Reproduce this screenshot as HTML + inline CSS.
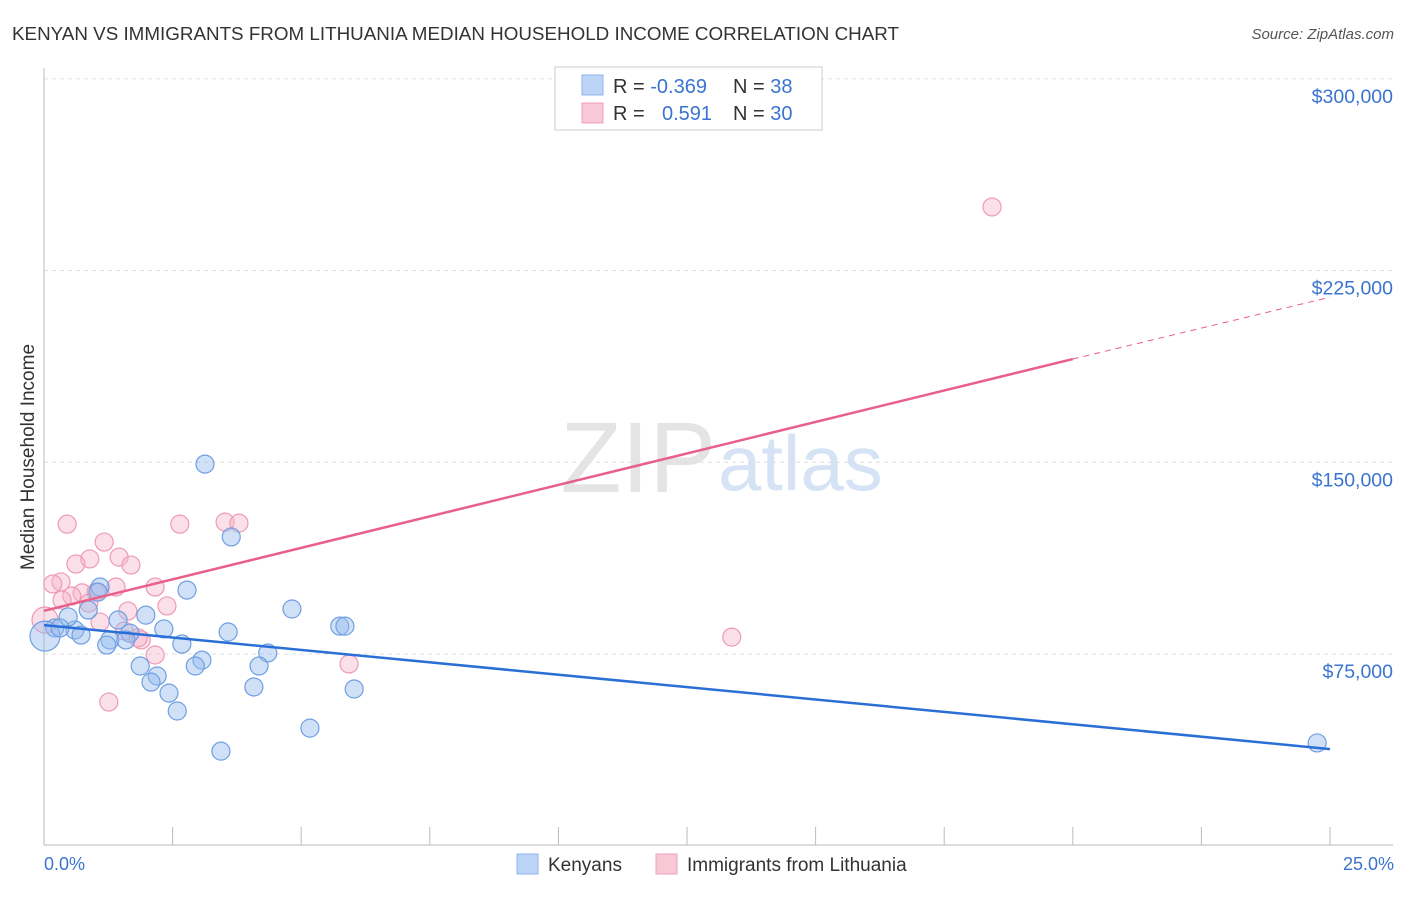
<!DOCTYPE html>
<html><head><meta charset="utf-8"><style>
body{margin:0;background:#fff;font-family:"Liberation Sans",sans-serif;}
svg text{font-family:"Liberation Sans",sans-serif;}
</style></head><body>
<svg id="chart" width="1406" height="892">
<text x="12" y="40" font-size="18" fill="#333" textLength="887" lengthAdjust="spacingAndGlyphs">KENYAN VS IMMIGRANTS FROM LITHUANIA MEDIAN HOUSEHOLD INCOME CORRELATION CHART</text>
<text x="1394" y="39" font-size="15" fill="#555" font-style="italic" text-anchor="end">Source: ZipAtlas.com</text>
<text x="716" y="492" font-size="100" fill="#e4e4e4" text-anchor="end" font-family="Liberation Serif">ZIP</text>
<text x="718" y="490" font-size="78" fill="#d6e3f5">atlas</text>
<text transform="translate(34,457) rotate(-90)" font-size="19" fill="#333" text-anchor="middle">Median Household Income</text>
<g id="grid"></g><g id="axes"></g><g id="marks"></g>
<g>
<rect x="555" y="67" width="267" height="63" fill="#fff" stroke="#ccc"/>
<rect x="582" y="75" width="21" height="20" fill="#bcd4f6" stroke="#8fb3e8"/>
<rect x="582" y="103" width="21" height="20" fill="#f9c8d6" stroke="#f0a0b8"/>
<text x="613" y="93" font-size="20" fill="#333">R = <tspan fill="#3a74d0">-0.369</tspan></text>
<text x="733" y="93" font-size="20" fill="#333">N = <tspan fill="#3a74d0">38</tspan></text>
<text x="613" y="120" font-size="20" fill="#333">R = <tspan fill="#3a74d0" x="662">0.591</tspan></text>
<text x="733" y="120" font-size="20" fill="#333">N = <tspan fill="#3a74d0">30</tspan></text>
</g>
<g>
<rect x="517" y="854" width="21" height="20" fill="#bcd4f6" stroke="#8fb3e8"/>
<text x="548" y="871" font-size="19" fill="#333">Kenyans</text>
<rect x="656" y="854" width="21" height="20" fill="#f9c8d6" stroke="#f0a0b8"/>
<text x="687" y="871" font-size="19" fill="#333">Immigrants from Lithuania</text>
</g>
<text x="44" y="870" font-size="18" fill="#3a74d0">0.0%</text>
<text x="1394" y="870" font-size="18" fill="#3a74d0" text-anchor="end">25.0%</text>
</svg>
<script>
const yTicks=[75000,150000,225000,300000];
const yTickLabels=["$75,000","$150,000","$225,000","$300,000"];
const xTicks=[0,2.5,5,7.5,10,12.5,15,17.5,20,22.5,25];
const blueX=[3.13,3.64,2.78,1.09,4.82,1.98,1.44,5.75,5.85,2.33,3.58,0.21,0.60,0.72,1.67,1.28,1.59,2.68,1.22,4.35,3.07,1.87,2.94,4.18,2.20,2.08,2.43,4.08,6.03,2.59,5.17,3.44,24.75,0.47,0.86,0.02,1.05,0.31];
const blueY=[149300,120800,100000,101200,92600,90200,88300,85900,85900,84800,83600,85200,84400,82400,83200,80500,80500,78900,78500,75400,72600,70300,70300,70300,66400,64000,59700,62100,61300,52700,46000,37000,40200,89500,92200,82000,99200,85200];
const pinkX=[18.43,0.45,2.64,3.52,3.79,1.17,1.46,0.89,0.62,1.69,0.33,0.17,1.40,2.16,0.74,1.01,0.54,2.39,1.63,0.87,1.09,1.56,1.89,1.83,2.16,5.93,13.37,1.26,0.02,0.35];
const pinkY=[249900,125800,125800,126600,126200,118800,112900,112200,110200,109800,103200,102400,101200,101200,98900,99200,97700,93800,91800,94900,87500,84000,80500,81300,74600,71100,81600,56200,88300,96100];
const blueTrend=[86300,37800];
const pinkTrend=[91900,190400,214600];
const pinkSolidEnd=20;
const NS="http://www.w3.org/2000/svg";
const X=v=>44+v/25*1286;
const Y=v=>845.7-v/75000*191.7;
function mk(t,a,p){const e=document.createElementNS(NS,t);for(const k in a)e.setAttribute(k,a[k]);p.appendChild(e);return e;}
const grid=document.getElementById('grid'),axes=document.getElementById('axes'),marks=document.getElementById('marks');
yTicks.forEach((t,i)=>{
 const l=mk('line',{x1:44,x2:1393,y1:Y(t),y2:Y(t),stroke:'#ddd','stroke-dasharray':'4,4'},grid);
 
 
 const tx=mk('text',{x:1393,y:Y(t)+24,'font-size':19.5,fill:'#3a74d0','text-anchor':'end'},grid);
 tx.textContent=yTickLabels[i];
 
 
});
const ya=mk('line',{x1:44,x2:44,y1:68,y2:845,stroke:'#bbb'},axes);


const xa=mk('line',{x1:44,x2:1393,y1:845,y2:845,stroke:'#bbb'},axes);


xTicks.forEach(t=>{const l=mk('line',{x1:X(t),x2:X(t),y1:827,y2:845,stroke:'#bbb'},axes);
 
 });
function pts(xs,ys,fill,stroke,name){xs.forEach((x,i)=>{
 const r=(x<0.05)?(name==='kenyan-point'?15:13):9;
 const c=mk('circle',{cx:X(x),cy:Y(ys[i]),r:r,fill:fill,stroke:stroke,'stroke-width':1.2},marks);
 
 });}
pts(pinkX,pinkY,'rgba(246,178,200,0.4)','#ef9ab4','lithuania-point');
pts(blueX,blueY,'rgba(150,188,238,0.45)','#6e9fe2','kenyan-point');
const bl=mk('line',{x1:X(0),y1:Y(blueTrend[0]),x2:X(25),y2:Y(blueTrend[1]),stroke:'#2a6fd6','stroke-width':2.5},marks);


const pl=mk('line',{x1:X(0),y1:Y(pinkTrend[0]),x2:X(pinkSolidEnd),y2:Y(pinkTrend[1]),stroke:'#e8608a','stroke-width':2.5},marks);


const pd=mk('line',{x1:X(pinkSolidEnd),y1:Y(pinkTrend[1]),x2:X(25),y2:Y(pinkTrend[2]),stroke:'#e8608a','stroke-width':1,'stroke-dasharray':'6,5'},marks);


</script>
</body></html>
